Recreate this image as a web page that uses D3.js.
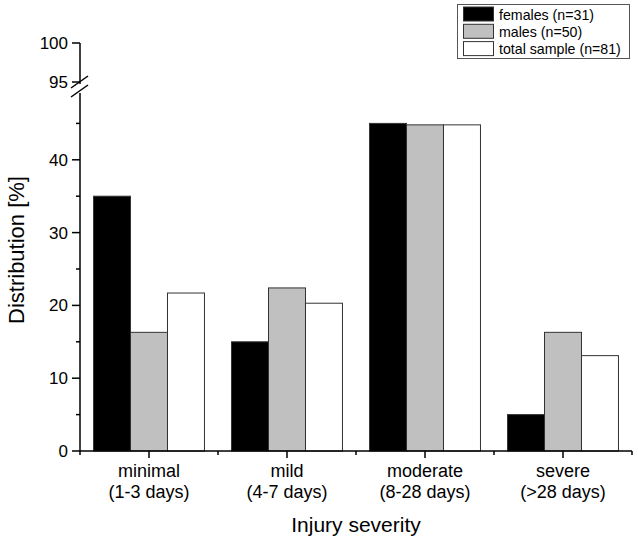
<!DOCTYPE html>
<html>
<head>
<meta charset="utf-8">
<script src="https://cdn.jsdelivr.net/npm/d3@7"></script>
<style>
  html, body { margin: 0; padding: 0; background: #fff; }
  svg { display: block; font-family: "Liberation Sans", Arial, sans-serif; }
</style>
</head>
<body>
<svg id="chart" width="638" height="545"></svg>
<script>
// ---- data ----
const categories = ["minimal", "mild", "moderate", "severe"];
const categorySub = ["(1-3 days)", "(4-7 days)", "(8-28 days)", "(>28 days)"];
const seriesNames = ["females (n=31)", "males (n=50)", "total sample (n=81)"];
const females = [35.0, 15.0, 45.0, 5.0];
const males = [16.3, 22.4, 44.8, 16.3];
const total = [21.7, 20.3, 44.8, 13.1];
const lowerTicks = [0, 10, 20, 30, 40];
const lowerMinorTicks = [5, 15, 25, 35, 45];
const upperTicks = [95, 100];
const seriesColors = ["#000000", "#c0c0c0", "#ffffff"];

const svg = d3.select("#chart");
const axisX = 80, axisY = 451, axisRight = 632;

const x = d3.scaleBand().domain(categories).range([axisX, axisRight]).paddingInner(0.196).paddingOuter(0.098);
const xs = d3.scaleBand().domain(d3.range(3)).range([0, x.bandwidth()]);
const yLow = d3.scaleLinear().domain([0, 50]).range([axisY, 87]);
const yUp = d3.scaleLinear().domain([95, 100]).range([82, 43]);

const seriesData = [females, males, total];

// bars
seriesData.forEach((vals, si) => {
  svg.append("g").selectAll("rect").data(vals).join("rect")
    .attr("x", (d, i) => x(categories[i]) + xs(si))
    .attr("width", xs.bandwidth())
    .attr("y", d => yLow(d))
    .attr("height", d => axisY - yLow(d))
    .attr("fill", seriesColors[si])
    .attr("stroke", "#333")
    .attr("stroke-width", 1);
});

// x axis line & ticks
const gx = svg.append("g");
gx.append("line").attr("x1", axisX).attr("x2", axisRight).attr("y1", axisY).attr("y2", axisY)
  .attr("stroke", "#000").attr("stroke-width", 1.5);
gx.selectAll("line.maj").data(categories).join("line").attr("class", "maj")
  .attr("x1", d => x(d) + x.bandwidth() / 2).attr("x2", d => x(d) + x.bandwidth() / 2)
  .attr("y1", axisY).attr("y2", axisY + 7).attr("stroke", "#000").attr("stroke-width", 1.5);
const step = x.step();
const bounds = d3.range(categories.length + 1).map(i => axisX + i * step);
gx.selectAll("line.min").data(bounds).join("line").attr("class", "min")
  .attr("x1", d => d).attr("x2", d => d)
  .attr("y1", axisY).attr("y2", axisY + 4).attr("stroke", "#000").attr("stroke-width", 1.5);
gx.selectAll("text.c1").data(categories).join("text").attr("class", "c1")
  .attr("x", d => x(d) + x.bandwidth() / 2).attr("y", 477)
  .attr("text-anchor", "middle").attr("font-size", 18).text(d => d);
gx.selectAll("text.c2").data(categorySub).join("text").attr("class", "c2")
  .attr("x", (d, i) => x(categories[i]) + x.bandwidth() / 2).attr("y", 498)
  .attr("text-anchor", "middle").attr("font-size", 18).text(d => d);

svg.append("text").attr("x", 356).attr("y", 532).attr("text-anchor", "middle")
  .attr("font-size", 21).text("Injury severity");

// y axis (lower segment)
const gy = svg.append("g");
gy.append("line").attr("x1", axisX).attr("x2", axisX).attr("y1", axisY + 0.75).attr("y2", 93)
  .attr("stroke", "#000").attr("stroke-width", 1.5);
gy.append("line").attr("x1", axisX).attr("x2", axisX).attr("y1", 84).attr("y2", yUp(100))
  .attr("stroke", "#000").attr("stroke-width", 1.5);
gy.selectAll("line.maj").data(lowerTicks).join("line").attr("class", "maj")
  .attr("x1", axisX - 8).attr("x2", axisX).attr("y1", d => yLow(d)).attr("y2", d => yLow(d))
  .attr("stroke", "#000").attr("stroke-width", 1.5);
gy.selectAll("line.min").data(lowerMinorTicks).join("line").attr("class", "min")
  .attr("x1", axisX - 4).attr("x2", axisX).attr("y1", d => yLow(d)).attr("y2", d => yLow(d))
  .attr("stroke", "#000").attr("stroke-width", 1.5);
gy.selectAll("text.l").data(lowerTicks).join("text").attr("class", "l")
  .attr("x", axisX - 12).attr("y", d => yLow(d) + 6).attr("text-anchor", "end")
  .attr("font-size", 17).text(d => d);
gy.selectAll("line.up").data(upperTicks).join("line").attr("class", "up")
  .attr("x1", axisX - 8).attr("x2", axisX).attr("y1", d => yUp(d)).attr("y2", d => yUp(d))
  .attr("stroke", "#000").attr("stroke-width", 1.5);
gy.selectAll("text.u").data(upperTicks).join("text").attr("class", "u")
  .attr("x", axisX - 12).attr("y", d => yUp(d) + 6).attr("text-anchor", "end")
  .attr("font-size", 17).text(d => d);
// break marks
[[84, 80], [93, 89]].forEach(([yl, yr]) => {
  gy.append("line").attr("x1", axisX - 9).attr("x2", axisX + 8)
    .attr("y1", yl + 4).attr("y2", yr - 4).attr("stroke", "#000").attr("stroke-width", 1.5);
});

svg.append("text").attr("transform", "translate(24,250) rotate(-90)")
  .attr("text-anchor", "middle").attr("font-size", 22).text("Distribution [%]");

// legend
const lg = svg.append("g");
lg.append("rect").attr("x", 457.5).attr("y", 4.5).attr("width", 172).attr("height", 54)
  .attr("fill", "#fff").attr("stroke", "#555").attr("stroke-width", 1);
seriesNames.forEach((n, i) => {
  const yy = 7 + i * 17.3;
  lg.append("rect").attr("x", 463.5).attr("y", yy).attr("width", 30).attr("height", 14)
    .attr("fill", seriesColors[i]).attr("stroke", "#333").attr("stroke-width", 1);
  lg.append("text").attr("x", 499).attr("y", yy + 12.5).attr("font-size", 14.2).text(n);
});
</script>
</body>
</html>
